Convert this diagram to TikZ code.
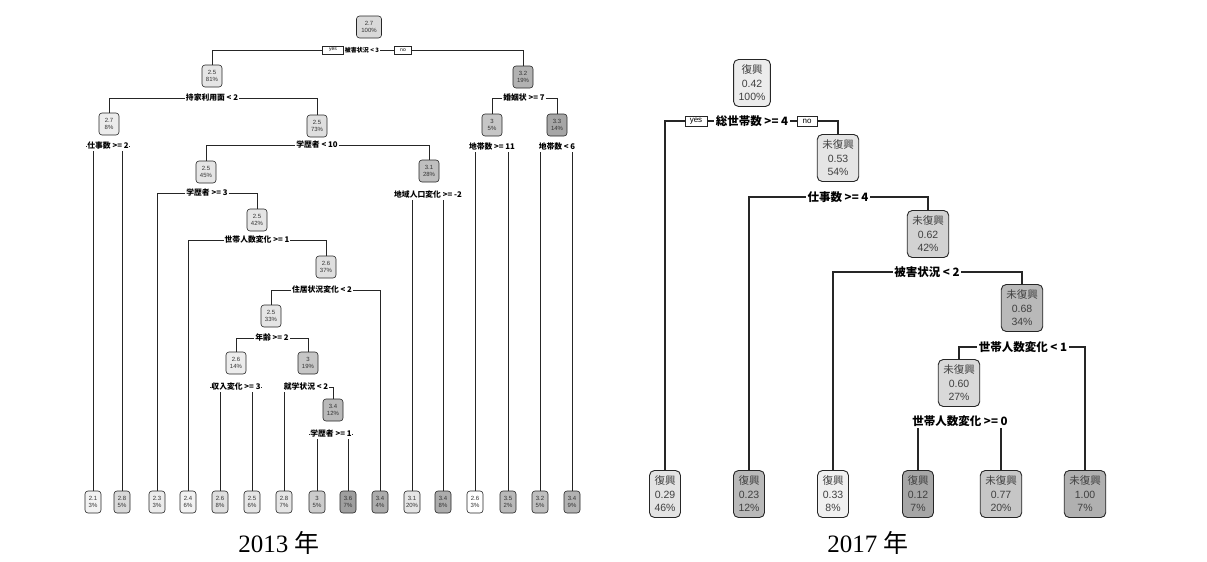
\documentclass[tikz,border=0pt]{standalone}
\usepackage{fontspec}
\setmainfont{Liberation Serif}
\newfontfamily\lsans{Liberation Sans}
\newfontfamily\cjk{Noto Sans CJK JP}
\usetikzlibrary{backgrounds}
\begin{document}
\begin{tikzpicture}[x=1pt,y=-1pt,
  ln/.style={draw=black!85, line width=0.7pt},
  lnode/.style={draw=black!85, line width=0.6pt, rounded corners=3pt, minimum width=20pt, minimum height=22pt, inner sep=0.5pt, align=center, font=\lsans\fontsize{6}{7}\selectfont, text=black!80},
  lleaf/.style={lnode, minimum width=16pt},
  lsplit/.style={fill=white, inner sep=0.8pt, font=\cjk\bfseries\fontsize{7.8}{8.5}\selectfont},
  lyn/.style={draw=black!85, fill=white, line width=0.5pt, inner sep=0.5pt, minimum height=8pt, font=\lsans\fontsize{5}{6}\selectfont},
  rn/.style={draw=black!85, line width=0.9pt, rounded corners=5pt, minimum height=47pt, inner xsep=5pt, inner ysep=2pt, align=center, font=\lsans\fontsize{10.5}{13.5}\selectfont, text=black!75},
  rsplit/.style={fill=white, inner sep=1.5pt, font=\cjk\bfseries\fontsize{11.5}{13}\selectfont},
  ryn/.style={draw=black!85, fill=white, line width=0.7pt, inner sep=1pt, minimum height=10pt, font=\lsans\fontsize{8}{9}\selectfont},
  rl/.style={draw=black!85, line width=1.1pt},
  captext/.style={font=\fontsize{25}{28}\selectfont}
]
\useasboundingbox (0,0) rectangle (1207,562);

% ---------------- 2013 tree ----------------
\node[lnode, fill=gray!30, minimum width=25pt] (root) at (369,27) {2.7\\100\%};
\node[lnode, fill=gray!20] (A) at (212,76) {2.5\\81\%};
\node[lnode, fill=gray!60] (R) at (523,77) {3.2\\19\%};
\node[lnode, fill=gray!15] (B) at (109,124) {2.7\\8\%};
\node[lnode, fill=gray!25] (C) at (317,126) {2.5\\73\%};
\node[lnode, fill=gray!45] (L) at (492,125) {3\\5\%};
\node[lnode, fill=gray!70] (M) at (557,125) {3.3\\14\%};
\node[lnode, fill=gray!20] (D) at (206,172) {2.5\\45\%};
\node[lnode, fill=gray!50] (K) at (429,171) {3.1\\28\%};
\node[lnode, fill=gray!20] (E) at (257,220) {2.5\\42\%};
\node[lnode, fill=gray!25] (F) at (326,267) {2.6\\37\%};
\node[lnode, fill=gray!20] (G) at (271,316) {2.5\\33\%};
\node[lnode, fill=gray!15] (H) at (236,363) {2.6\\14\%};
\node[lnode, fill=gray!45] (I) at (308,363) {3\\19\%};
\node[lnode, fill=gray!55] (J) at (333,410) {3.4\\12\%};

\node[lleaf, fill=gray!10] (l1)  at (93,502)  {2.1\\3\%};
\node[lleaf, fill=gray!30] (l2)  at (122,502) {2.8\\5\%};
\node[lleaf, fill=gray!15] (l3)  at (157,502) {2.3\\3\%};
\node[lleaf, fill=gray!10] (l4)  at (188,502) {2.4\\6\%};
\node[lleaf, fill=gray!25] (l5)  at (220,502) {2.6\\8\%};
\node[lleaf, fill=gray!20] (l6)  at (252,502) {2.5\\6\%};
\node[lleaf, fill=gray!20] (l7)  at (284,502) {2.8\\7\%};
\node[lleaf, fill=gray!40] (l8)  at (317,502) {3\\5\%};
\node[lleaf, fill=gray!75] (l9)  at (348,502) {3.6\\7\%};
\node[lleaf, fill=gray!65] (l10) at (380,502) {3.4\\4\%};
\node[lleaf, fill=gray!20] (l11) at (412,502) {3.1\\20\%};
\node[lleaf, fill=gray!65] (l12) at (443,502) {3.4\\8\%};
\node[lleaf, fill=white]   (l13) at (475,502) {2.6\\3\%};
\node[lleaf, fill=gray!55] (l14) at (508,502) {3.5\\2\%};
\node[lleaf, fill=gray!50] (l15) at (540,502) {3.2\\5\%};
\node[lleaf, fill=gray!60] (l16) at (572,502) {3.4\\9\%};

\node[lsplit, font=\cjk\bfseries\fontsize{6}{7}\selectfont] (s0) at (362,50) {被害状況 < 3};
\node[lyn, minimum width=21pt] (yes0) at (333,50) {yes};
\node[lyn, minimum width=17pt] (no0) at (403,50) {no};
\node[lsplit] (sA) at (212,98) {持家利用面 < 2};
\node[lsplit] (sB) at (108,146) {仕事数 >= 2};
\node[lsplit] (sC) at (317,145) {学歴者 < 10};
\node[lsplit] (sD) at (207,193) {学歴者 >= 3};
\node[lsplit] (sE) at (257,240) {世帯人数変化 >= 1};
\node[lsplit] (sF) at (322,290) {住居状況変化 < 2};
\node[lsplit] (sG) at (272,338) {年齢 >= 2};
\node[lsplit] (sH) at (236,387) {収入変化 >= 3};
\node[lsplit] (sI) at (306,387) {就学状況 < 2};
\node[lsplit] (sJ) at (331,434) {学歴者 >= 1};
\node[lsplit] (sK) at (428,195) {地域人口変化 >= -2};
\node[lsplit] (sR) at (524,98) {婚姻状 >= 7};
\node[lsplit] (sL) at (492,147) {地帯数 >= 11};
\node[lsplit] (sM) at (557,147) {地帯数 < 6};

\begin{scope}[on background layer]
\draw[ln] (s0) -| (A.north);  \draw[ln] (s0) -| (R.north);
\draw[ln] (sA) -| (B.north);  \draw[ln] (sA) -| (C.north);
\draw[ln] (sB) -| (l1.north); \draw[ln] (sB) -| (l2.north);
\draw[ln] (sC) -| (D.north);  \draw[ln] (sC) -| (K.north);
\draw[ln] (sD) -| (l3.north); \draw[ln] (sD) -| (E.north);
\draw[ln] (sE) -| (l4.north); \draw[ln] (sE) -| (F.north);
\draw[ln] (sF) -| (G.north);  \draw[ln] (sF) -| (l10.north);
\draw[ln] (sG) -| (H.north);  \draw[ln] (sG) -| (I.north);
\draw[ln] (sH) -| (l5.north); \draw[ln] (sH) -| (l6.north);
\draw[ln] (sI) -| (l7.north); \draw[ln] (sI) -| (J.north);
\draw[ln] (sJ) -| (l8.north); \draw[ln] (sJ) -| (l9.north);
\draw[ln] (sK) -| (l11.north);\draw[ln] (sK) -| (l12.north);
\draw[ln] (sR) -| (L.north);  \draw[ln] (sR) -| (M.north);
\draw[ln] (sL) -| (l13.north);\draw[ln] (sL) -| (l14.north);
\draw[ln] (sM) -| (l15.north);\draw[ln] (sM) -| (l16.north);
\end{scope}

\node[captext] (c13) at (279,543) {2013 {\cjk 年}};

% ---------------- 2017 tree ----------------
\node[rn, fill=gray!15] (r0) at (752,83)  {{\cjk 復興}\\0.42\\100\%};
\node[rn, fill=gray!20] (r1) at (838,158) {{\cjk 未復興}\\0.53\\54\%};
\node[rn, fill=gray!35] (r2) at (928,234) {{\cjk 未復興}\\0.62\\42\%};
\node[rn, fill=gray!55] (r3) at (1022,308) {{\cjk 未復興}\\0.68\\34\%};
\node[rn, fill=gray!30] (r4) at (959,383) {{\cjk 未復興}\\0.60\\27\%};

\node[rn, fill=gray!22] (q1) at (665,494)  {{\cjk 復興}\\0.29\\46\%};
\node[rn, fill=gray!55] (q2) at (749,494)  {{\cjk 復興}\\0.23\\12\%};
\node[rn, fill=gray!12] (q3) at (833,494)  {{\cjk 復興}\\0.33\\8\%};
\node[rn, fill=gray!70] (q4) at (918,494)  {{\cjk 復興}\\0.12\\7\%};
\node[rn, fill=gray!45] (q5) at (1001,494) {{\cjk 未復興}\\0.77\\20\%};
\node[rn, fill=gray!62] (q6) at (1085,494) {{\cjk 未復興}\\1.00\\7\%};

\node[rsplit] (rs0) at (752,121) {総世帯数 >= 4};
\node[ryn, minimum width=22pt] (yes1) at (696,121) {yes};
\node[ryn, minimum width=20pt] (no1) at (807,121) {no};
\node[rsplit] (rs1) at (838,197) {仕事数 >= 4};
\node[rsplit] (rs2) at (927,272) {被害状況 < 2};
\node[rsplit] (rs3) at (1023,347) {世帯人数変化 < 1};
\node[rsplit] (rs4) at (960,421) {世帯人数変化 >= 0};

\begin{scope}[on background layer]
\draw[rl] (rs0) -| (q1.north); \draw[rl] (rs0) -| (r1.north);
\draw[rl] (rs1) -| (q2.north); \draw[rl] (rs1) -| (r2.north);
\draw[rl] (rs2) -| (q3.north); \draw[rl] (rs2) -| (r3.north);
\draw[rl] (rs3) -| (r4.north); \draw[rl] (rs3) -| (q6.north);
\draw[rl] (rs4) -| (q4.north); \draw[rl] (rs4) -| (q5.north);
\end{scope}

\node[captext] (c17) at (868,543) {2017 {\cjk 年}};
\end{tikzpicture}
\end{document}
